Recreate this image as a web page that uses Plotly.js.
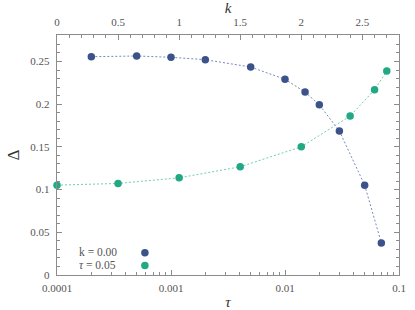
<!DOCTYPE html>
<html>
<head>
<meta charset="utf-8">
<script src="https://cdn.plot.ly/plotly-3.0.1.min.js"></script>
<style>html,body{margin:0;padding:0;background:#fff}#chart{width:415px;height:310px}</style>
</head>
<body>
<div id="chart"></div>
<script>
// Blue series: Delta vs tau at k = 0.00 (bottom log axis)
const tauValues = [0.0002, 0.0005, 0.001, 0.002, 0.005, 0.01, 0.015, 0.02, 0.03, 0.05, 0.07];
const deltaVsTau = [0.2556, 0.2564, 0.2549, 0.2521, 0.2435, 0.2291, 0.2142, 0.1993, 0.1685, 0.1052, 0.0376];
// Green series: Delta vs k at tau = 0.05 (top linear axis)
const kValues = [0, 0.5, 1.0, 1.5, 2.0, 2.4, 2.6, 2.7];
const deltaVsK = [0.1052, 0.1072, 0.1138, 0.1267, 0.1501, 0.1861, 0.2169, 0.2388];
// Tick labels
const tauTickVals = [0.0001, 0.001, 0.01, 0.1];
const tauTickText = ["0.0001", "0.001", "0.01", "0.1"];
const legendLabels = ["k = 0.00", "<i>τ</i> = 0.05"];

const BLUE = "#3b528b", BLUE_LINE = "#7a89bd";
const GREEN = "#22a884", GREEN_LINE = "#6fd0b0";
const AX = "#8c8c8c", TXT = "#555555";
const FONT = "'Liberation Serif', 'DejaVu Serif', serif";

const traces = [
  {x: tauValues, y: deltaVsTau, xaxis: "x", yaxis: "y", mode: "lines",
   line: {color: BLUE_LINE, width: 1, dash: "2px,2px"}, showlegend: false, hoverinfo: "skip"},
  {x: kValues, y: deltaVsK, xaxis: "x2", yaxis: "y", mode: "lines",
   line: {color: GREEN_LINE, width: 1, dash: "2px,2px"}, showlegend: false, hoverinfo: "skip"},
  {x: tauValues, y: deltaVsTau, xaxis: "x", yaxis: "y", mode: "markers", name: legendLabels[0],
   marker: {color: BLUE, size: 7.5}, cliponaxis: false, showlegend: false},
  {x: kValues, y: deltaVsK, xaxis: "x2", yaxis: "y", mode: "markers", name: legendLabels[1],
   marker: {color: GREEN, size: 7.5}, cliponaxis: false, showlegend: false}
];

const axBase = {
  showline: true, linecolor: AX, linewidth: 1.2, showgrid: false, zeroline: false,
  ticks: "inside", ticklen: 5, tickcolor: AX, tickwidth: 1,
  tickfont: {family: FONT, size: 11, color: TXT}
};

const layout = {
  width: 415, height: 310,
  margin: {l: 57, r: 16, t: 35, b: 35, pad: 0},
  paper_bgcolor: "#fff", plot_bgcolor: "#fff",
  font: {family: FONT, color: TXT},
  showlegend: false,
  xaxis: Object.assign({}, axBase, {
    type: "log", range: [-4, -1], tickmode: "array", tickvals: tauTickVals, ticktext: tauTickText,
    minor: {dtick: "D1", ticks: "inside", ticklen: 3, tickcolor: AX, tickwidth: 1, showgrid: false},
    title: {text: "<i>τ</i>", font: {family: FONT, size: 15, color: "#333"}, standoff: 6},
    ticklabelstandoff: 3
  }),
  xaxis2: Object.assign({}, axBase, {
    overlaying: "x", side: "top", range: [0, 2.8], tickmode: "linear", tick0: 0, dtick: 0.5,
    minor: {dtick: 0.1, ticks: "inside", ticklen: 3, tickcolor: AX, tickwidth: 1, showgrid: false},
    title: {text: "<i>k</i>", font: {family: FONT, size: 15, color: "#333"}, standoff: 4},
    ticklabelstandoff: 3
  }),
  yaxis: Object.assign({}, axBase, {
    range: [0, 0.281], tickmode: "linear", tick0: 0, dtick: 0.05, mirror: "ticks",
    minor: {dtick: 0.01, ticks: "inside", ticklen: 3, tickcolor: AX, tickwidth: 1, showgrid: false},
    title: {text: "Δ", font: {family: FONT, size: 17, color: "#333"}, standoff: 6},
    ticklabelstandoff: 4
  }),
  annotations: [
    {xref: "paper", yref: "paper", x: 0.059, y: 0.0938, xanchor: "left", yanchor: "middle",
     text: legendLabels[0], showarrow: false, font: {family: FONT, size: 11.5, color: TXT}},
    {xref: "paper", yref: "paper", x: 0.059, y: 0.0396, xanchor: "left", yanchor: "middle",
     text: legendLabels[1], showarrow: false, font: {family: FONT, size: 11.5, color: TXT}}
  ],
  shapes: [
    {type: "circle", xref: "paper", yref: "paper", xsizemode: "pixel", ysizemode: "pixel",
     xanchor: 0.257, yanchor: 0.093, x0: -3.75, x1: 3.75, y0: -3.75, y1: 3.75,
     fillcolor: BLUE, line: {width: 0}},
    {type: "circle", xref: "paper", yref: "paper", xsizemode: "pixel", ysizemode: "pixel",
     xanchor: 0.257, yanchor: 0.0396, x0: -3.75, x1: 3.75, y0: -3.75, y1: 3.75,
     fillcolor: GREEN, line: {width: 0}}
  ]
};

Plotly.newPlot("chart", traces, layout, {displayModeBar: false, staticPlot: true});
</script>
</body>
</html>
